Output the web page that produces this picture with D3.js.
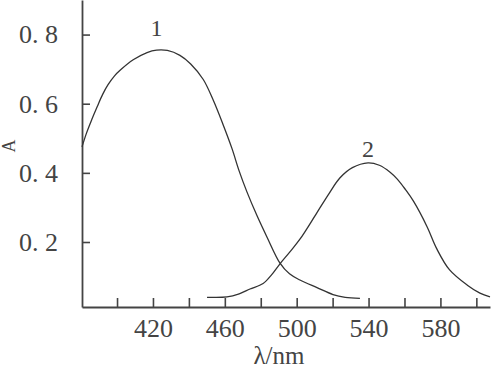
<!DOCTYPE html>
<html>
<head>
<meta charset="utf-8">
<script src="https://cdn.jsdelivr.net/npm/d3@7"></script>
<style>
  body { margin: 0; background: #fff; }
  text { font-family: "Liberation Serif", serif; fill: #444; }
</style>
</head>
<body>
<script>
// wavelength (nm) and absorbance
const wave1 = [380.5, 383, 386, 389, 392, 395, 398.5, 402, 409, 416.7, 422, 428, 435, 441, 448, 453.4, 459, 464, 468, 472.3, 478, 483.5, 490.7, 496, 501.8, 511.3, 520.2, 527, 535.2];
const abs1  = [0.475, 0.515, 0.555, 0.592, 0.627, 0.655, 0.68, 0.698, 0.727, 0.748, 0.755, 0.754, 0.740, 0.715, 0.670, 0.612, 0.540, 0.470, 0.405, 0.345, 0.275, 0.214, 0.139, 0.108, 0.090, 0.068, 0.048, 0.040, 0.037];

const wave2 = [450.1, 461.2, 468, 474.0, 481.3, 486, 490.7, 496, 501.8, 511.3, 518, 524, 531, 539.7, 546, 552, 556, 560.5, 565, 572.5, 578, 585, 595, 602.0, 607.6];
const abs2  = [0.040, 0.041, 0.050, 0.064, 0.080, 0.105, 0.137, 0.170, 0.208, 0.285, 0.340, 0.385, 0.415, 0.429, 0.422, 0.402, 0.382, 0.352, 0.318, 0.245, 0.180, 0.120, 0.075, 0.052, 0.041];

const yTicks = [0.2, 0.4, 0.6, 0.8];
const xTicks = [400, 420, 440, 460, 480, 500, 520, 540, 560, 580, 600];
const xLabels = [420, 460, 500, 540, 580];

const curveLabels = ["1", "2"];
const labelLift = [14, 6];

let svg, x, y;

setupSvg();
setupScales();
drawAxes();
drawCurves();

function setupSvg() {
  svg = d3.select("body").append("svg")
    .attr("width", 498)
    .attr("height", 370);
}

function setupScales() {
  x = d3.scaleLinear().domain([380.5, 607.6]).range([82, 490]);
  y = d3.scaleLinear().domain([0.012, 0.9]).range([307, 0]);
}

function drawAxes() {
  const yAxis = svg.append("g")
    .attr("transform", "translate(82,0)")
    .call(d3.axisLeft(y)
      .tickValues(yTicks)
      .tickSizeInner(-8)
      .tickSizeOuter(0)
      .tickPadding(24)
      .tickFormat(d => d3.format(".1f")(d).replace(".", ". ")));

  const xAxis = svg.append("g")
    .attr("transform", "translate(0,307)")
    .call(d3.axisBottom(x)
      .tickValues(xTicks)
      .tickSizeInner(-9)
      .tickSizeOuter(0)
      .tickPadding(12)
      .tickFormat(d => xLabels.includes(d) ? d : ""));

  [xAxis, yAxis].forEach(g => {
    g.select(".domain").attr("stroke", "#444").attr("stroke-width", 1.8);
    g.selectAll(".tick line").attr("stroke", "#444").attr("stroke-width", 1.6);
    g.selectAll("text")
      .attr("font-family", "Liberation Serif, serif")
      .attr("font-size", 26)
      .attr("fill", "#555")
      .style("white-space", "pre");
  });

  svg.append("text")
    .attr("x", 279)
    .attr("y", 364)
    .attr("text-anchor", "middle")
    .attr("font-size", 25)
    .text("λ/nm");

  svg.append("text")
    .attr("transform", "translate(15,146) rotate(-90)")
    .attr("text-anchor", "middle")
    .attr("font-size", 18)
    .text("A");
}

function drawCurves() {
  const line = d3.line()
    .x(d => x(d[0]))
    .y(d => y(d[1]))
    .curve(d3.curveCatmullRom.alpha(0.5));

  const series = [d3.zip(wave1, abs1), d3.zip(wave2, abs2)];

  svg.selectAll("path.curve")
    .data(series)
    .enter()
    .append("path")
      .attr("class", "curve")
      .attr("d", line)
      .attr("fill", "none")
      .attr("stroke", "#333")
      .attr("stroke-width", 1.3);

  // peak labels
  const peaks = series.map(s => s.reduce((a, b) => (b[1] > a[1] ? b : a)));
  svg.selectAll("text.peak")
    .data(peaks)
    .enter()
    .append("text")
      .attr("class", "peak")
      .attr("x", d => x(d[0]))
      .attr("y", (d, i) => y(d[1]) - labelLift[i])
      .attr("text-anchor", "middle")
      .attr("font-size", 24)
      .text((d, i) => curveLabels[i]);
}
</script>
</body>
</html>
